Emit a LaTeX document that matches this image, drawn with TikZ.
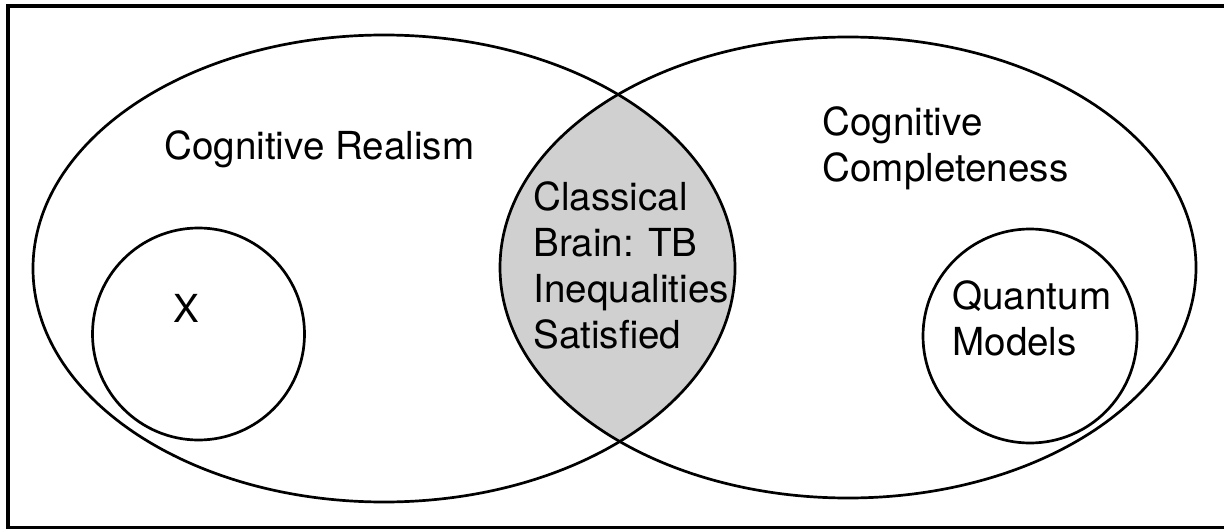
\documentclass[tikz,border=0pt]{standalone}
\usepackage{fontspec}
\setmainfont{TeX Gyre Heros}
\definecolor{lensgray}{RGB}{208,208,208}
\begin{document}
\begin{tikzpicture}[
                            x=0.5pt, y=-0.5pt,
                            set/.style={line width=1.35pt},
                            label/.style={inner sep=0pt, align=left, font=\fontsize{19.3}{23}\selectfont}
                        ]
                        \useasboundingbox (0,0) rectangle (1224,529);
                        % Frame
                        \draw [line width=1.8pt] (8,6) rectangle (1230,527.5);

                        % Regions
                        \begin{scope}
                            \clip (384,268.5) ellipse [x radius=351, y radius=233.5];
                            \fill [lensgray] (848,267.5) ellipse [x radius=348, y radius=230.5];
                        \end{scope}
                        \draw [set] (384,268.5) ellipse [x radius=351, y radius=233.5];
                        \draw [set] (848,267.5) ellipse [x radius=348, y radius=230.5];
                        \draw [set] (198.5,334) circle [radius=106];
                        \draw [set] (1030,336) circle [radius=107];

                        % Labels
                        \node [label, anchor=west] (realism) at (164,149) {Cognitive Realism};
                        \node [label, anchor=west] (complete) at (822,148) {Cognitive\\Completeness};
                        \node [label, anchor=west] (classical) at (533,265) {Classical\\Brain: TB\\Inequalities\\Satisfied};
                        \node [label] (x) at (186,308) {X};
                        \node [label, anchor=west] (quantum) at (952,318) {Quantum\\Models};
                    \end{tikzpicture}
\end{document}
